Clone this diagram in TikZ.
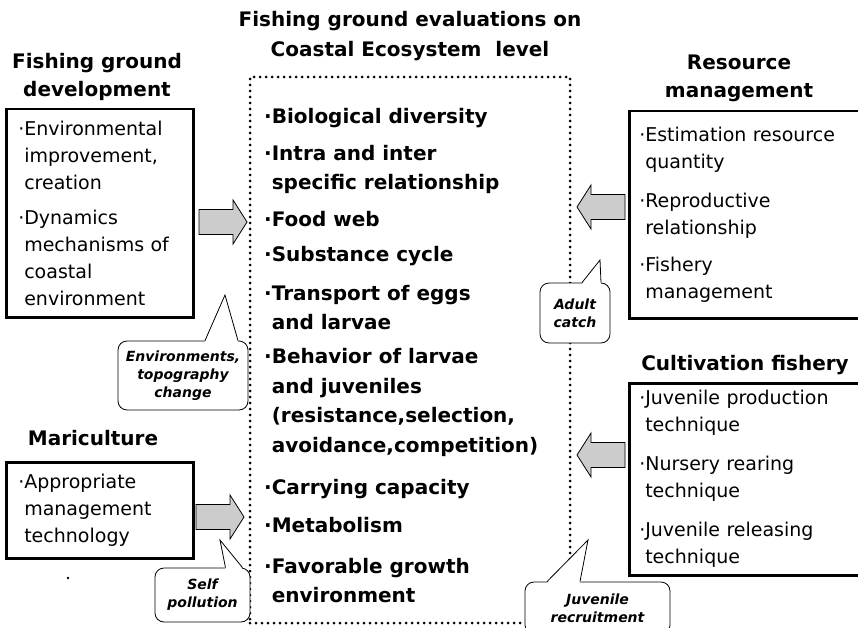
\documentclass[tikz,border=0pt]{standalone}
\usepackage{fontspec}
\setmainfont{DejaVu Sans}
\usetikzlibrary{calc}

\newcommand{\itm}{·}
\newcommand{\ind}{\hphantom{·}}

\tikzset{
  titletext/.style={font=\fontsize{20}{30}\selectfont\bfseries, align=center},
  headtext/.style={font=\fontsize{20}{28}\selectfont\bfseries, align=center},
  sidebox/.style={draw, line width=2.5pt, anchor=north west, align=left, inner xsep=12pt,
    font=\fontsize{19}{27}\selectfont},
  rightbox/.style={sidebox, inner xsep=10pt},
  evalitem/.style={anchor=west, align=left, inner sep=0pt, font=\fontsize{20}{29.5}\selectfont\bfseries},
  dotbox/.style={line width=3pt, line cap=round, dash pattern=on 0pt off 6pt},
  remark/.style={draw, line width=0.8pt, rounded corners=9pt, fill=white, align=center,
    inner sep=2pt, font=\fontsize{14}{18}\selectfont\bfseries\itshape},
  tailline/.style={line width=0.8pt},
  arrowbody/.style={draw, line width=0.8pt, fill=gray!40},
  blockarrow/.pic={\filldraw[arrowbody] (-24,-12.5) -- (10,-12.5) -- (10,-22) -- (24,0) -- (10,22) -- (10,12.5) -- (-24,12.5) -- cycle;}
}

\begin{document}
\begin{tikzpicture}[x=1pt,y=-1pt]
\clip (0,0) rectangle (858,628);

% centre: evaluations on ecosystem level
\node[titletext] (title) at (410,36) {Fishing ground evaluations on\\Coastal Ecosystem\ \ level};
\node[dotbox, draw, minimum width=320pt, minimum height=546pt] (evalbox) at (410,350) {};

\node[evalitem] (bio) at (264,118) {\itm Biological diversity};
\node[evalitem] (intra) at (264,169.5) {\itm Intra and inter\\\ind specific relationship};
\node[evalitem] (food) at (264,219) {\itm Food web};
\node[evalitem] (subst) at (264,256) {\itm Substance cycle};
\node[evalitem] (trans) at (264,307.5) {\itm Transport of eggs\\\ind and larvae};
\node[evalitem] (behav) at (264,402.5) {\itm Behavior of larvae\\\ind and juveniles\\\ind (resistance,selection,\\\ind avoidance,competition)};
\node[evalitem] (carry) at (264,489) {\itm Carrying capacity};
\node[evalitem] (metab) at (264,525) {\itm Metabolism};
\node[evalitem] (favor) at (264,580.5) {\itm Favorable growth\\\ind environment};

% left side
\node[headtext] (devhead) at (97,77) {Fishing ground\\development};
\node[sidebox, minimum width=187pt, minimum height=208pt, text width=163pt] (devbox) at (5,108)
  {\itm Environmental\\\ind improvement,\\\ind creation\\[8pt]\itm Dynamics\\\ind mechanisms of\\\ind coastal\\\ind environment};
\pic (devarrow) at (223,222) {blockarrow};

\node[headtext] (marihead) at (93,438) {Mariculture};
\node[sidebox, minimum width=187pt, minimum height=96pt, text width=163pt] (maribox) at (5,461)
  {\itm Appropriate\\\ind management\\\ind technology};
\pic (mariarrow) at (220,517) {blockarrow};
\fill (68,578) circle (1.3);

% right side
\node[headtext] (reshead) at (739,78) {Resource\\management};
\node[rightbox, minimum width=238pt, minimum height=207pt, text width=218pt] (resbox) at (628,110)
  {\itm Estimation resource\\\ind quantity\\[12pt]\itm Reproductive\\\ind relationship\\[10pt]\itm Fishery\\\ind management};
\pic[xscale=-1] (resarrow) at (601,207) {blockarrow};

\node[headtext] (culthead) at (745,365) {Cultivation fishery};
\node[rightbox, minimum width=238pt, minimum height=192pt, text width=218pt] (cultbox) at (628,382)
  {\itm Juvenile production\\\ind technique\\[12pt]\itm Nursery rearing\\\ind technique\\[12pt]\itm Juvenile releasing\\\ind technique};
\pic[xscale=-1] (cultarrow) at (601,455) {blockarrow};

% callouts
\node[remark, minimum width=130pt, minimum height=69pt] (envnote) at (183,375.5) {Environments,\\topography\\change};
\coordinate (envtip) at (225,295);
\fill[white] ($(envnote.north)+(22,1.5)$) -- (envtip) -- ($(envnote.north)+(55,1.5)$) -- cycle;
\draw[tailline] ($(envnote.north)+(22,0)$) -- (envtip) -- ($(envnote.north)+(55,0)$);

\node[remark, minimum width=95pt, minimum height=54pt] (selfnote) at (202.5,595) {Self\\pollution};
\coordinate (selftip) at (220,540);
\fill[white] ($(selfnote.north)+(23,1.5)$) -- (selftip) -- ($(selfnote.north)+(40,1.5)$) -- cycle;
\draw[tailline] ($(selfnote.north)+(23,0)$) -- (selftip) -- ($(selfnote.north)+(40,0)$);

\node[remark, minimum width=70pt, minimum height=60pt] (adultnote) at (575,313) {Adult\\catch};
\coordinate (adulttip) at (600,260);
\fill[white] ($(adultnote.north)+(7,1.5)$) -- (adulttip) -- ($(adultnote.north)+(26,1.5)$) -- cycle;
\draw[tailline] ($(adultnote.north)+(7,0)$) -- (adulttip) -- ($(adultnote.north)+(26,0)$);

\node[remark, minimum width=145pt, minimum height=52pt] (juvnote) at (597.5,608) {Juvenile\\recruitment};
\coordinate (juvtip) at (588,540);
\fill[white] ($(juvnote.north)+(-50.5,1.5)$) -- (juvtip) -- ($(juvnote.north)+(-17.5,1.5)$) -- cycle;
\draw[tailline] ($(juvnote.north)+(-50.5,0)$) -- (juvtip) -- ($(juvnote.north)+(-17.5,0)$);
\end{tikzpicture}
\end{document}
